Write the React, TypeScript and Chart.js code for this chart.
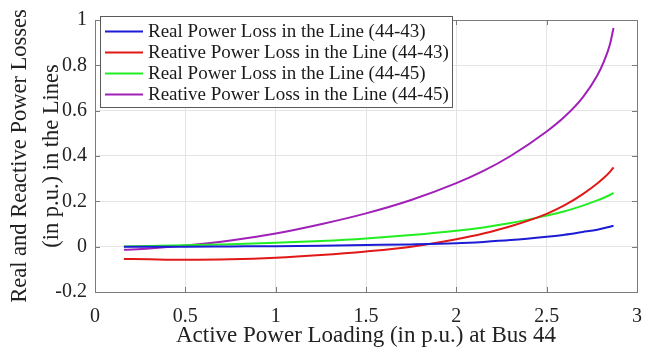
import React, { useEffect, useRef } from "react";
import { Chart, registerables } from "chart.js";
Chart.register(...registerables);

const loading = [0.16, 0.3, 0.5, 0.75, 1.0, 1.25, 1.5, 1.75, 2.0, 2.15, 2.3, 2.5, 2.6, 2.7, 2.78, 2.82, 2.85, 2.87];
const realLoss4443 = [0.0, 0.0, 0.0, 0.001, 0.002, 0.004, 0.007, 0.01, 0.015, 0.021, 0.029, 0.044, 0.053, 0.065, 0.075, 0.082, 0.088, 0.093];
const reactLoss4443 = [-0.054, -0.056, -0.058, -0.056, -0.049, -0.037, -0.021, 0.0, 0.033, 0.058, 0.09, 0.145, 0.183, 0.232, 0.279, 0.306, 0.33, 0.35];
const realLoss4445 = [0.001, 0.003, 0.006, 0.011, 0.017, 0.025, 0.036, 0.051, 0.07, 0.085, 0.104, 0.137, 0.156, 0.181, 0.204, 0.217, 0.228, 0.237];
const reactLoss4445 = [-0.014, -0.008, 0.005, 0.027, 0.058, 0.099, 0.147, 0.206, 0.28, 0.334, 0.4, 0.508, 0.574, 0.659, 0.755, 0.823, 0.892, 0.965];

const seriesNames = [
  "Real Power Loss in the Line (44-43)",
  "Reative Power Loss in the Line (44-43)",
  "Real Power Loss in the Line (44-45)",
  "Reative Power Loss in the Line (44-45)",
];
const seriesColors = ["#1c1cd4", "#e01818", "#22ee22", "#a020b8"];
const xTicks = [0, 0.5, 1, 1.5, 2, 2.5, 3];
const yTicks = [-0.2, 0, 0.2, 0.4, 0.6, 0.8, 1];
const xTitle = "Active Power Loading (in p.u.) at Bus 44";
const yTitle = ["Real and Reactive Power Losses", "(in p.u.) in the Lines"];

const FONT = "Liberation Serif";

export default function App() {
  const ref = useRef<HTMLCanvasElement | null>(null);
  useEffect(() => {
    document.body.style.margin = "0";
    const canvas = ref.current!;
    const series = [realLoss4443, reactLoss4443, realLoss4445, reactLoss4445];
    let chart: any = null;
    let cancelled = false;
    const frame = {
      id: "frame",
      afterDraw(c: any) {
        const { ctx, chartArea } = c;
        const { left, right, top, bottom } = chartArea;
        const xs = c.scales.x;
        const ys = c.scales.y;
        ctx.save();
        ctx.strokeStyle = "#7a7a7a";
        ctx.lineWidth = 1;
        ctx.beginPath();
        xTicks.forEach((v) => {
          const px = Math.round(xs.getPixelForValue(v)) + 0.5;
          ctx.moveTo(px, bottom);
          ctx.lineTo(px, bottom - 5);
          ctx.moveTo(px, top);
          ctx.lineTo(px, top + 5);
        });
        yTicks.forEach((v) => {
          const py = Math.round(ys.getPixelForValue(v)) + 0.5;
          ctx.moveTo(left, py);
          ctx.lineTo(left + 5, py);
          ctx.moveTo(right, py);
          ctx.lineTo(right - 5, py);
        });
        ctx.stroke();
        ctx.strokeRect(Math.round(left) + 0.5, Math.round(top) + 0.5, Math.round(right - left), Math.round(bottom - top));
        const lx = 100.5, ly = 16.5, lw = 352, lh = 91;
        ctx.fillStyle = "#ffffff";
        ctx.fillRect(lx, ly, lw, lh);
        ctx.strokeStyle = "#5a5a5a";
        ctx.strokeRect(lx, ly, lw, lh);
        ctx.font = "19px 'Liberation Serif'";
        ctx.textBaseline = "middle";
        ctx.textAlign = "left";
        seriesNames.forEach((name, i) => {
          const y = 31.5 + i * 21;
          ctx.strokeStyle = seriesColors[i];
          ctx.lineWidth = 2;
          ctx.beginPath();
          ctx.moveTo(105, y);
          ctx.lineTo(143, y);
          ctx.stroke();
          ctx.fillStyle = "#1a1a1a";
          ctx.fillText(name, 148, y + 1);
        });
        ctx.restore();
      },
    };
    const build = () => {
      if (cancelled) return;
      chart = new Chart(canvas, {
        type: "line",
        data: {
          datasets: series.map((s, i) => ({
            label: seriesNames[i],
            data: loading.map((x, j) => ({ x, y: s[j] })),
            borderColor: seriesColors[i],
            backgroundColor: seriesColors[i],
            borderWidth: 2,
            pointRadius: 0,
            cubicInterpolationMode: "monotone" as const,
            fill: false,
          })),
        },
        options: {
          responsive: false,
          animation: false,
          layout: { padding: { left: 0, top: 11, right: 29, bottom: 0 } },
          plugins: { legend: { display: false }, tooltip: { enabled: false } },
          scales: {
            x: {
              type: "linear",
              min: 0,
              max: 3,
              afterBuildTicks: (s: any) => {
                s.ticks = xTicks.map((v) => ({ value: v }));
              },
              afterFit: (s: any) => {
                s.height = 60;
              },
              grid: { color: "#e4e4e4", drawTicks: false },
              border: { display: false },
              ticks: {
                color: "#222222",
                font: { family: FONT, size: 20 },
                padding: 13,
                maxRotation: 0,
                callback: (v: any) => String(v),
              },
              title: {
                display: true,
                text: xTitle,
                color: "#222222",
                font: { family: FONT, size: 23, lineHeight: 1.2 },
                padding: { top: 0, bottom: 2 },
              },
            },
            y: {
              type: "linear",
              min: -0.2,
              max: 1,
              afterBuildTicks: (s: any) => {
                s.ticks = yTicks.map((v) => ({ value: v }));
              },
              afterFit: (s: any) => {
                s.width = 95;
              },
              grid: { color: "#e4e4e4", drawTicks: false },
              border: { display: false },
              ticks: {
                color: "#222222",
                font: { family: FONT, size: 20 },
                padding: 8,
                callback: (v: any) => String(v),
              },
              title: {
                display: true,
                text: yTitle,
                color: "#222222",
                font: { family: FONT, size: 22.5, lineHeight: "32px" },
                padding: { top: 4, bottom: 0 },
              },
            },
          },
        },
        plugins: [frame],
      });
    };
    const fonts: any = (document as any).fonts;
    if (fonts && fonts.load) {
      Promise.all([
        fonts.load("20px 'Liberation Serif'"),
        fonts.load("19px 'Liberation Serif'"),
        fonts.load("23px 'Liberation Serif'"),
      ])
        .catch(() => null)
        .then(build);
    } else {
      build();
    }
    return () => {
      cancelled = true;
      if (chart) chart.destroy();
    };
  }, []);
  return (
    <div style={{ width: 666, height: 352 }}>
      <canvas ref={ref} width={666} height={352} />
    </div>
  );
}
